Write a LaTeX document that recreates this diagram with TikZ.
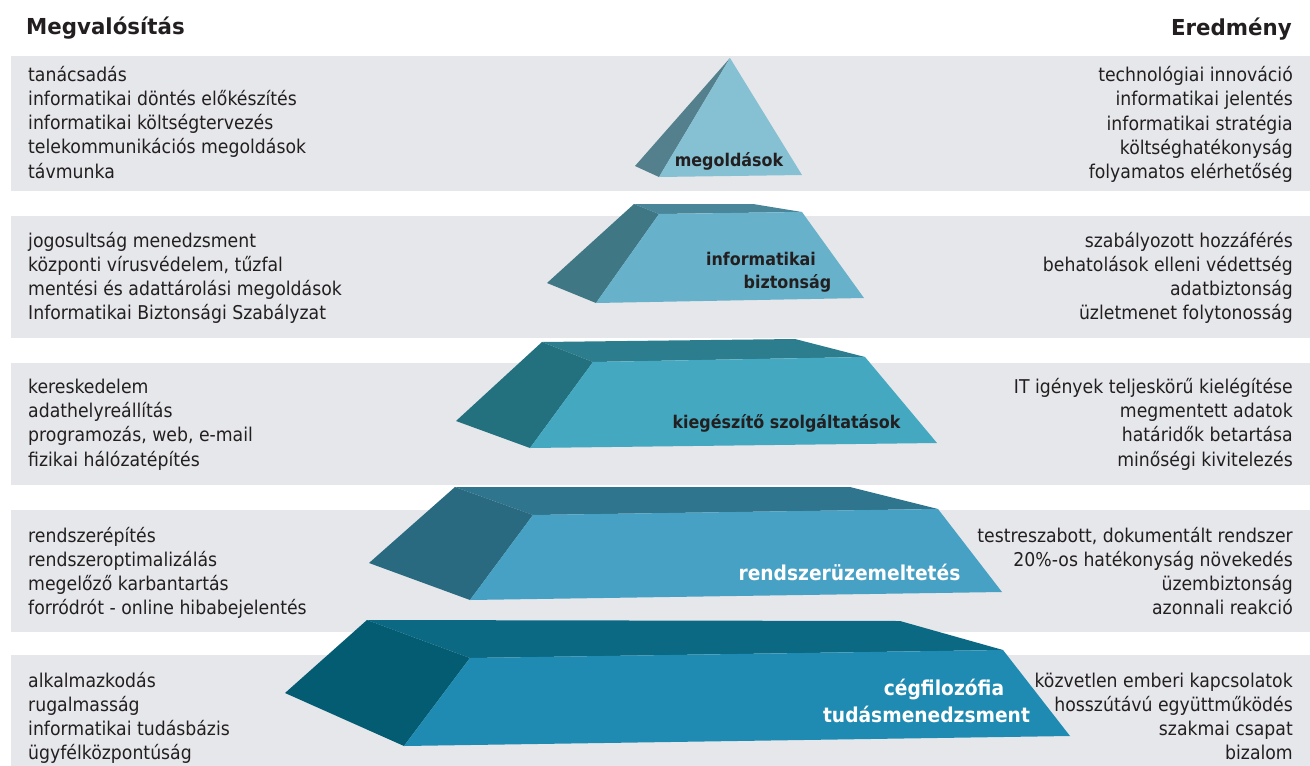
\documentclass[tikz,border=0pt]{standalone}
\usepackage{fontspec}
\setmainfont{DejaVu Sans}[FakeStretch=0.91]
\newfontfamily\hdfont{DejaVu Sans}[FakeStretch=0.97]
\definecolor{bandc}{HTML}{E6E7EB}
\definecolor{textc}{HTML}{231F20}
\definecolor{aF}{HTML}{86C0D3}\definecolor{aS}{HTML}{53808C}
\definecolor{bF}{HTML}{67B2CA}\definecolor{bS}{HTML}{3F7785}\definecolor{bT}{HTML}{4A8699}
\definecolor{cF}{HTML}{43A8C0}\definecolor{cS}{HTML}{23707F}\definecolor{cT}{HTML}{2C7E8F}
\definecolor{dF}{HTML}{47A1C4}\definecolor{dS}{HTML}{296A80}\definecolor{dT}{HTML}{30758E}
\definecolor{eF}{HTML}{1F8BB2}\definecolor{eS}{HTML}{045C73}\definecolor{eT}{HTML}{0C6984}
\tikzset{
  txt/.style={inner sep=0pt, text=textc, font=\fontsize{19}{24}\selectfont},
  lefttxt/.style={txt, anchor=base west},
  righttxt/.style={txt, anchor=base east},
  head/.style={inner sep=0pt, text=textc, font=\hdfont\bfseries\fontsize{22}{26}\selectfont},
  darklab/.style={inner sep=0pt, anchor=base, text=textc, font=\bfseries\fontsize{17.5}{21}\selectfont},
  whitelab/.style={inner sep=0pt, anchor=base, text=white, font=\bfseries\fontsize{20.5}{24}\selectfont},
  band/.style={fill=bandc}
}
\begin{document}
\begin{tikzpicture}[x=1pt,y=-1pt]
\useasboundingbox (0,0) rectangle (1310,766);
\fill[white] (0,0) rectangle (1310,766);
% bands
\fill[band] (11,56) rectangle (1310,191);
\fill[band] (11,216) rectangle (1310,338);
\fill[band] (11,363) rectangle (1310,485);
\fill[band] (11,510) rectangle (1310,632);
\fill[band] (11,655) rectangle (1310,766);
% headers
\node[head, anchor=base west] (hl) at (26,34) {Megvalósítás};
\node[head, anchor=base east] (hr) at (1292,35) {Eredmény};
% layer 1 (apex)
\fill[aS] (730,58) -- (635,166) -- (659,177) -- cycle;
\fill[aF] (730,58) -- (659,177) -- (802,175) -- cycle;
% layer 2
\fill[bT] (634,204) -- (753,204) -- (802,212) -- (659,214) -- cycle;
\fill[bS] (634,204) -- (659,214) -- (596,303) -- (547,283) -- cycle;
\fill[bF] (659,214) -- (802,212) -- (864,298) -- (596,303) -- cycle;
% layer 3
\fill[cT] (542,342) -- (795,339) -- (865,357) -- (593,362) -- cycle;
\fill[cS] (542,342) -- (593,362) -- (530,448) -- (456,421) -- cycle;
\fill[cF] (593,362) -- (865,357) -- (937,443) -- (530,448) -- cycle;
% layer 4
\fill[dT] (455,487) -- (850,487) -- (938,509) -- (533,515) -- cycle;
\fill[dS] (455,487) -- (533,515) -- (470,600) -- (369,563) -- cycle;
\fill[dF] (533,515) -- (938,509) -- (1002,592) -- (470,600) -- cycle;
% layer 5
\fill[eT] (367,620) -- (900,621) -- (1003,650) -- (470,658) -- cycle;
\fill[eS] (367,620) -- (470,658) -- (404,746) -- (285,693) -- cycle;
\fill[eF] (470,658) -- (1003,650) -- (1070,736) -- (404,746) -- cycle;
% layer labels
\node[darklab] (p1) at (729,166) {megoldások};
\node[darklab] (p2a) at (761,265) {informatikai};
\node[darklab] (p2b) at (787.5,288) {biztonság};
\node[darklab] (p3) at (786.5,428) {kiegészítő szolgáltatások};
\node[whitelab] (p4) at (849.5,580) {rendszerüzemeltetés};
\node[whitelab] (p5a) at (944,695) {cégfilozófia};
\node[whitelab] (p5b) at (926.5,722) {tudásmenedzsment};
% band texts
\foreach \t [count=\i] in {tanácsadás, informatikai döntés előkészítés, informatikai költségtervezés, telekommunikációs megoldások, távmunka}
  \node[lefttxt] (la\i) at (28,{81+24.3*(\i-1)}) {\t};
\foreach \t [count=\i] in {technológiai innováció, informatikai jelentés, informatikai stratégia, költséghatékonyság, folyamatos elérhetőség}
  \node[righttxt] (ra\i) at (1293,{81.5+24.3*(\i-1)}) {\t};
\foreach \t [count=\i] in {jogosultság menedzsment, {központi vírusvédelem, tűzfal}, mentési és adattárolási megoldások, Informatikai Biztonsági Szabályzat}
  \node[lefttxt] (lb\i) at (28,{247+24.2*(\i-1)}) {\t};
\foreach \t [count=\i] in {szabályozott hozzáférés, behatolások elleni védettség, adatbiztonság, üzletmenet folytonosság}
  \node[righttxt] (rb\i) at (1293,{247+24.2*(\i-1)}) {\t};
\foreach \t [count=\i] in {kereskedelem, adathelyreállítás, {programozás, web, e-mail}, fizikai hálózatépítés}
  \node[lefttxt] (lc\i) at (28,{393.5+24.2*(\i-1)}) {\t};
\foreach \t [count=\i] in {IT igények teljeskörű kielégítése, megmentett adatok, határidők betartása, minőségi kivitelezés}
  \node[righttxt] (rc\i) at (1293,{393.5+24.2*(\i-1)}) {\t};
\foreach \t [count=\i] in {rendszerépítés, rendszeroptimalizálás, megelőző karbantartás, forródrót - online hibabejelentés}
  \node[lefttxt] (ld\i) at (28,{542+24.1*(\i-1)}) {\t};
\foreach \t [count=\i] in {{testreszabott, dokumentált rendszer}, 20\%-os hatékonyság növekedés, üzembiztonság, azonnali reakció}
  \node[righttxt] (rd\i) at (1293,{542+24.1*(\i-1)}) {\t};
\foreach \t [count=\i] in {alkalmazkodás, rugalmasság, informatikai tudásbázis, ügyfélközpontúság}
  \node[lefttxt] (le\i) at (28,{687+24*(\i-1)}) {\t};
\foreach \t [count=\i] in {közvetlen emberi kapcsolatok, hosszútávú együttműködés, szakmai csapat, bizalom}
  \node[righttxt] (re\i) at (1293,{687+24*(\i-1)}) {\t};
\end{tikzpicture}
\end{document}
